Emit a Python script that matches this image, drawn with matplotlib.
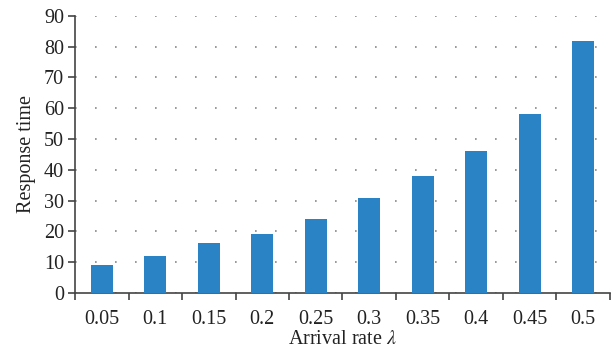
import numpy as np
import matplotlib
matplotlib.use('Agg')
import matplotlib.pyplot as plt

rates = ['0.05', '0.1', '0.15', '0.2', '0.25', '0.3', '0.35', '0.4', '0.45', '0.5']
response = [9.0, 12.0, 16.3, 19.3, 24.0, 30.8, 38.0, 46.0, 58.2, 82.0]

plt.rcParams['font.family'] = ['Liberation Serif', 'DejaVu Serif']
plt.rcParams['mathtext.fontset'] = 'stix'

fig = plt.figure(figsize=(6.11, 3.53), dpi=100)
ax = fig.add_axes([0.123, 0.17, 0.875, 0.785])

x = np.arange(len(rates))
ax.bar(x, response, width=0.41, color='#2a83c4', zorder=3)

ax.set_xlim(-0.5, len(rates) - 0.5)
ax.set_ylim(0, 90)
ax.set_yticks(range(0, 91, 10))
ax.set_xticks(x)
ax.set_xticklabels(rates)
ax.set_xticks(np.arange(-0.5, len(rates), 1.0), minor=True)
ax.tick_params(axis='x', which='major', length=0, pad=12, labelsize=14.5, colors='#222222')
ax.tick_params(axis='x', which='minor', length=5, width=1.2, color='#444444', direction='out')
ax.tick_params(axis='y', length=5, width=1.2, color='#444444', labelsize=14.5, labelcolor='#222222', pad=3)

ax.grid(axis='y', linestyle=(0, (1, 11)), color='#888888', linewidth=1.2, zorder=0)
for s in ['top', 'right']:
    ax.spines[s].set_visible(False)
for s in ['left', 'bottom']:
    ax.spines[s].set_color('#444444')
    ax.spines[s].set_linewidth(1.2)

ax.set_xlabel('Arrival rate $\\lambda$', fontsize=14.5, labelpad=1, color='#222222')
ax.set_ylabel('Response time', fontsize=14.5, labelpad=6, color='#222222')

fig.savefig('out.png', dpi=100)
